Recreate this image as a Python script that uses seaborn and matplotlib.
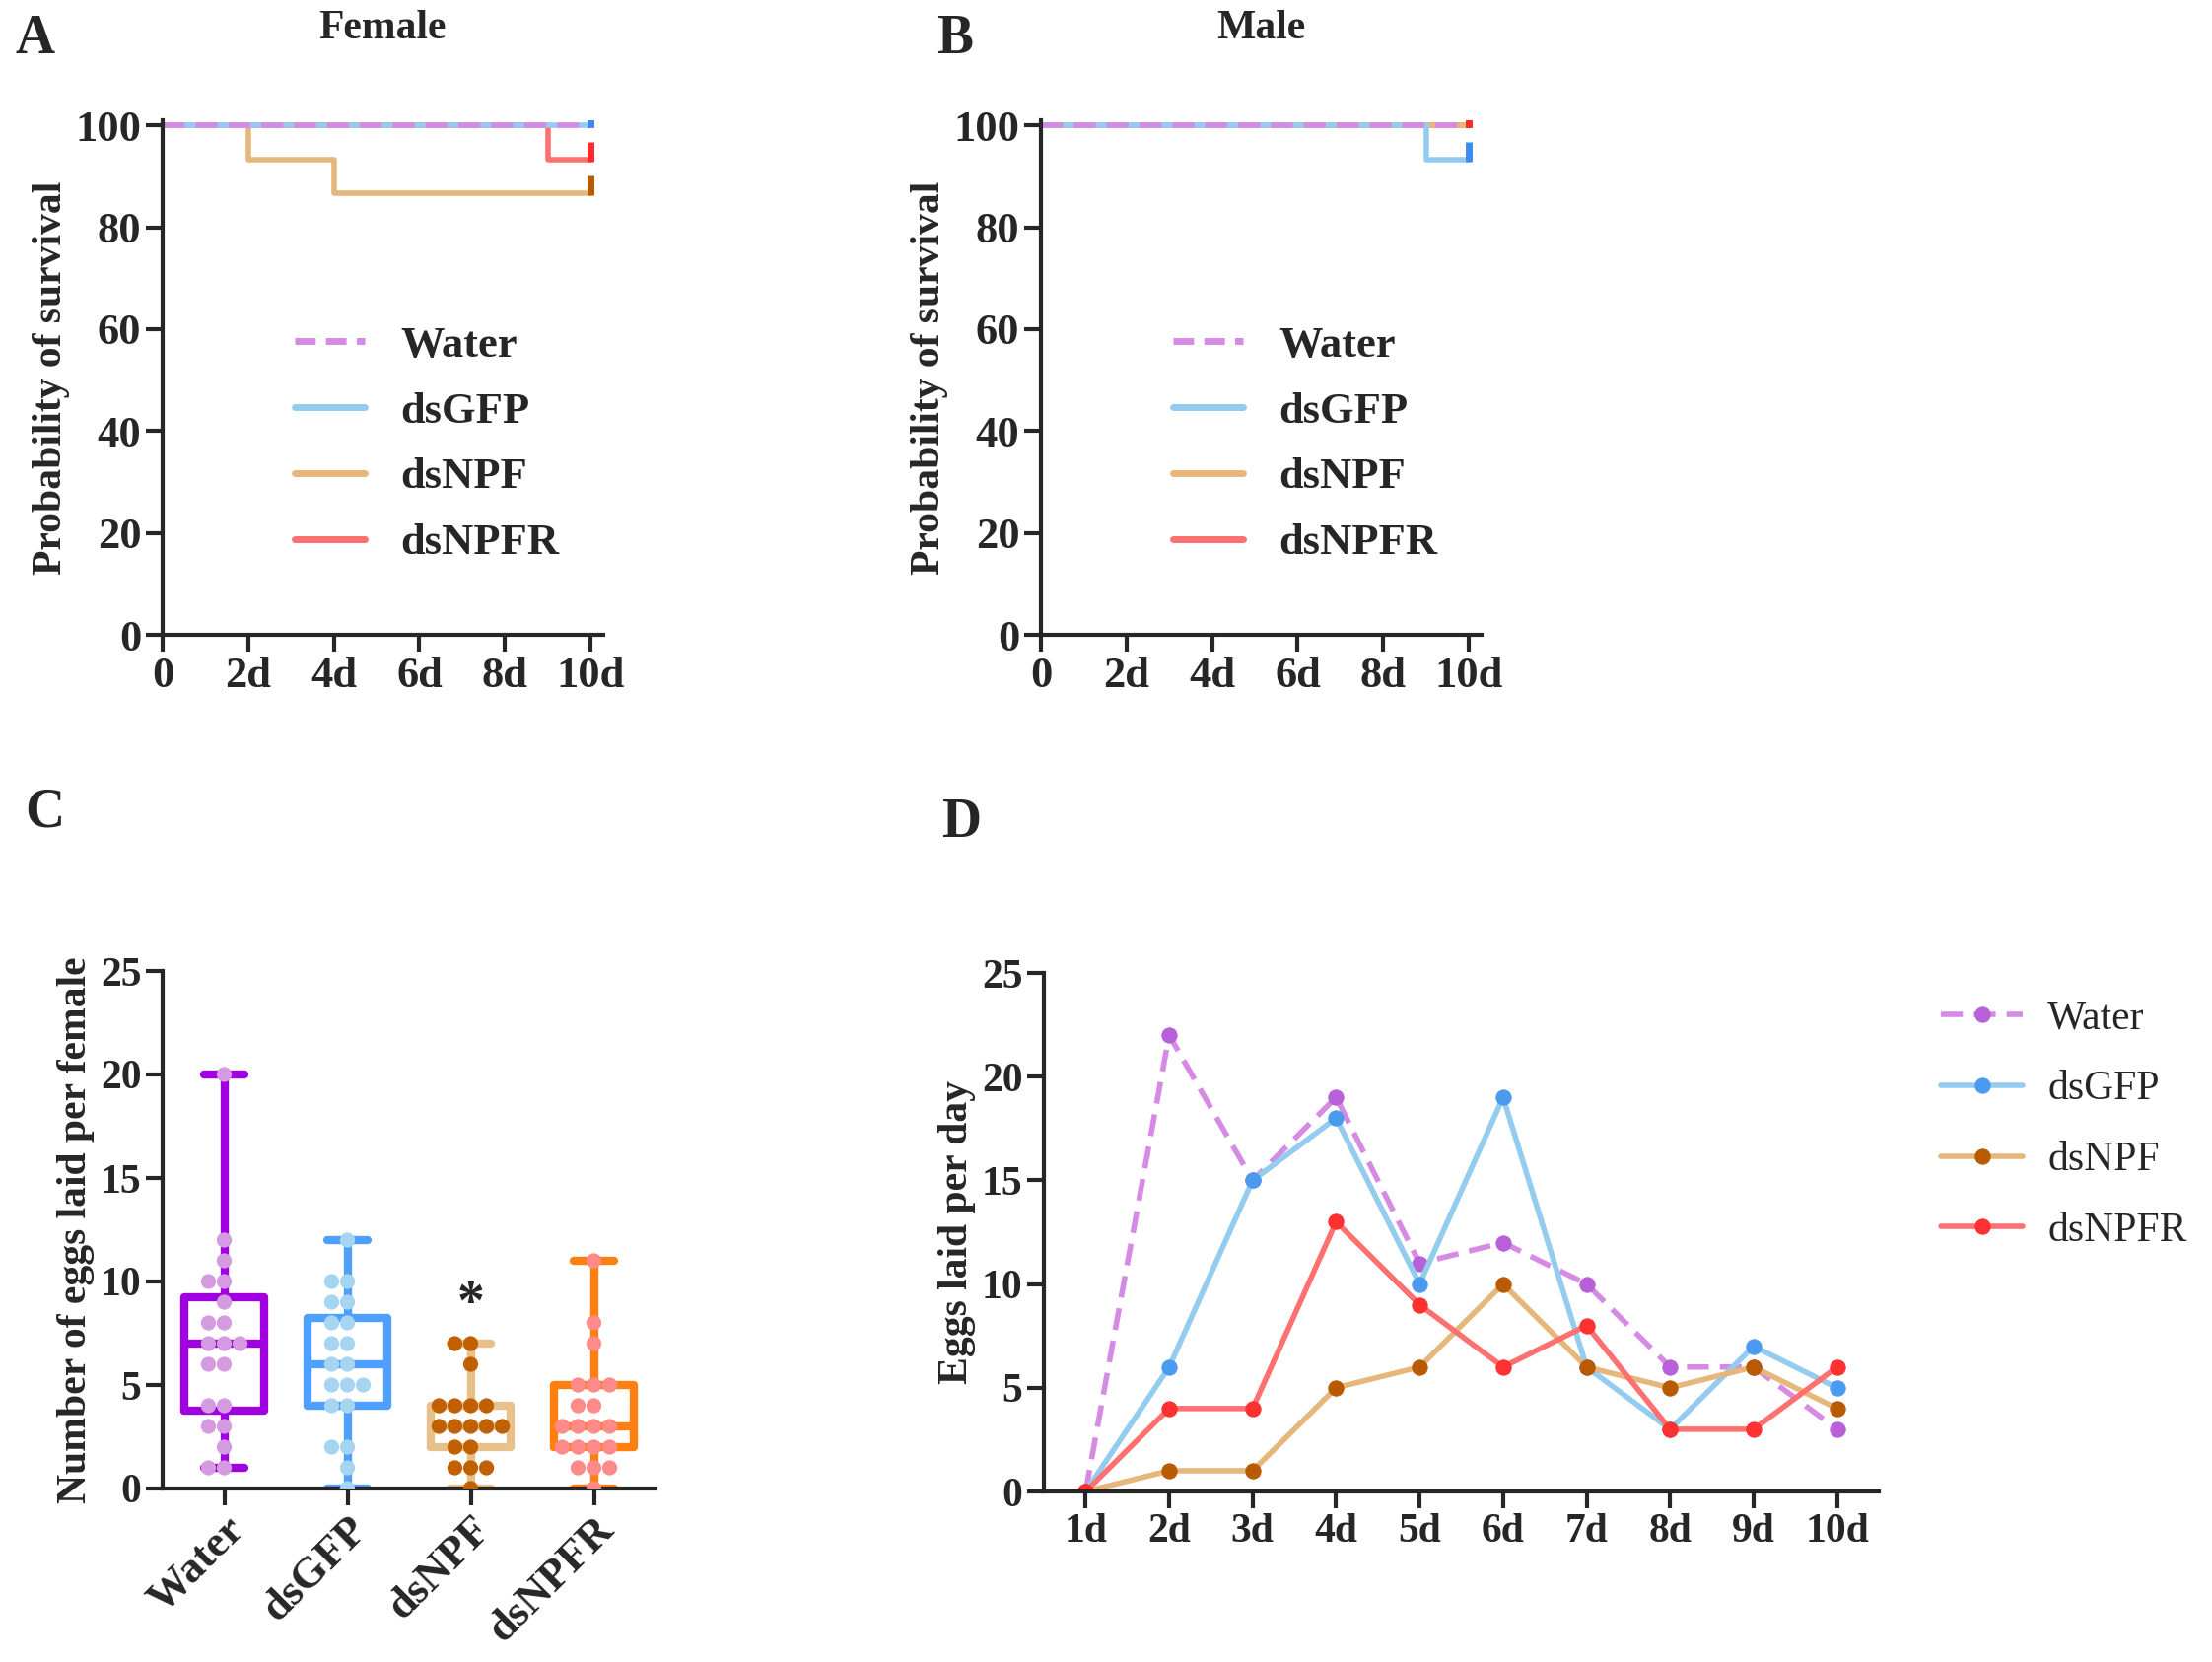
import numpy as np
import pandas as pd
import matplotlib
matplotlib.use('Agg')
import matplotlib.pyplot as plt
import seaborn as sns
from matplotlib.lines import Line2D

sns.set_style('ticks')
plt.rcParams['font.family'] = ['Liberation Serif', 'DejaVu Serif']
plt.rcParams['font.weight'] = 'bold'
plt.rcParams['axes.labelweight'] = 'bold'

groups = ['Water', 'dsGFP', 'dsNPF', 'dsNPFR']
line_cols = ['#D58BE3', '#93CCEE', '#E6B77A', '#FF7070']
dark_cols = ['#A000E0', '#3C8CF0', '#B85A00', '#FF2A2A']

# survival (days, percent) step points
surv_days = [0, 2, 4, 9, 10]
female_surv = {
    'Water':  [100, 100, 100, 100, 100],
    'dsGFP':  [100, 100, 100, 100, 100],
    'dsNPF':  [100, 93.3, 86.7, 86.7, 86.7],
    'dsNPFR': [100, 100, 100, 93.3, 93.3],
}
male_surv = {
    'Water':  [100, 100, 100, 100, 100],
    'dsGFP':  [100, 100, 100, 93.3, 93.3],
    'dsNPF':  [100, 100, 100, 100, 100],
    'dsNPFR': [100, 100, 100, 100, 100],
}
surv_ticks = ['0', '2d', '4d', '6d', '8d', '10d']

# eggs per female
eggs = {
    'Water':  [20, 12, 11, 10, 10, 9, 8, 8, 7, 7, 7, 6, 6, 4, 4, 3, 3, 2, 1, 1],
    'dsGFP':  [12, 10, 10, 9, 9, 8, 8, 7, 7, 6, 6, 5, 5, 5, 4, 4, 2, 2, 1, 0],
    'dsNPF':  [7, 7, 6, 4, 4, 4, 4, 3, 3, 3, 3, 3, 2, 2, 1, 1, 1, 0],
    'dsNPFR': [11, 8, 7, 5, 5, 5, 4, 4, 3, 3, 3, 3, 2, 2, 2, 2, 1, 1, 1, 0],
}
box_cols = ['#A000E0', '#4DA0FF', '#E8C08A', '#FF8010']
pt_cols = ['#D49BE0', '#A5D5F0', '#C06000', '#FF8A8A']

# eggs per day
days = ['1d', '2d', '3d', '4d', '5d', '6d', '7d', '8d', '9d', '10d']
per_day = {
    'Water':  [0, 22, 15, 19, 11, 12, 10, 6, 6, 3],
    'dsGFP':  [0, 6, 15, 18, 10, 19, 6, 3, 7, 5],
    'dsNPF':  [0, 1, 1, 5, 6, 10, 6, 5, 6, 4],
    'dsNPFR': [0, 4, 4, 13, 9, 6, 8, 3, 3, 6],
}
dot_cols = ['#B860D8', '#4A9BF0', '#B85A00', '#FF3030']

W, H = 2244, 1686
fig = plt.figure(figsize=(W / 100, H / 100), dpi=100)


def box(x0, y0, x1, y1):
    return [x0 / W, 1 - y1 / H, (x1 - x0) / W, (y1 - y0) / H]


def style(ax, fs=30):
    sns.despine(ax=ax)
    for s in ['left', 'bottom']:
        ax.spines[s].set_linewidth(3)
    ax.tick_params(width=3, length=12, labelsize=fs)
    for t in ax.get_xticklabels() + ax.get_yticklabels():
        t.set_fontweight('bold')


def survival(ax, data, title):
    # draw in reverse so Water (dashed) sits on top
    for g, lc, dc in list(zip(groups, line_cols, dark_cols))[::-1]:
        df = pd.DataFrame({'day': surv_days, 'p': data[g]})
        sns.lineplot(data=df, x='day', y='p', ax=ax, color=lc, lw=4,
                     drawstyle='steps-post',
                     linestyle=(0, (4, 2)) if g == 'Water' else '-')
    for g, dc in zip(groups, dark_cols):
        ax.plot([10], [data[g][-1] + 1.5], marker='|', color=dc, ms=14, mew=5)
    ax.set_xlim(0, 10.3)
    ax.set_ylim(0, 101)
    ax.set_xticks([0, 2, 4, 6, 8, 10], surv_ticks)
    ax.set_yticks(range(0, 101, 20))
    ax.set_xlabel('')
    ax.set_ylabel('Probability of survival', fontsize=30)
    ax.set_title(title, fontsize=30, fontweight='bold', pad=60)
    style(ax, 32)
    handles = [Line2D([], [], color=lc, lw=5,
                      linestyle=(0, (3, 1.5)) if g == 'Water' else '-')
               for g, lc in zip(groups, line_cols)]
    ax.legend(handles, groups, loc='center', bbox_to_anchor=(0.6, 0.37),
              frameon=False, handlelength=1.6, labelspacing=0.6,
              prop={'weight': 'bold', 'size': 32})


axA = fig.add_axes(box(165, 122, 612, 644))
survival(axA, female_surv, 'Female')
axB = fig.add_axes(box(1056, 122, 1503, 644))
survival(axB, male_surv, 'Male')

# panel C
axC = fig.add_axes(box(165, 985, 665, 1510))
long = pd.DataFrame([(g, v) for g in groups for v in eggs[g]], columns=['grp', 'n'])
for i, g in enumerate(groups):
    sub = long[long.grp == g]
    sns.boxplot(data=sub, x='grp', y='n', order=groups, ax=axC, fill=False,
                whis=(0, 100), width=0.65, color=box_cols[i], linewidth=6)
sns.swarmplot(data=long, x='grp', y='n', order=groups, hue='grp',
              palette=pt_cols, ax=axC, size=11, legend=False, zorder=5)
axC.text(2, 7.6, '*', ha='center', va='bottom', fontsize=40, fontweight='bold')
axC.set_ylim(0, 25)
axC.set_yticks(range(0, 26, 5))
axC.set_xlabel('')
axC.set_ylabel('Number of eggs laid per female', fontsize=30)
style(axC, 30)
for t in axC.get_xticklabels():
    t.set_rotation(45)
    t.set_ha('right')
    t.set_rotation_mode('anchor')
    t.set_fontsize(32)

# panel D
axD = fig.add_axes(box(1059, 987, 1906, 1513))
for g, lc, dc in zip(groups, line_cols, dot_cols):
    df = pd.DataFrame({'day': days, 'n': per_day[g]})
    sns.lineplot(data=df, x='day', y='n', ax=axD, color=lc, lw=4, sort=False,
                 linestyle=(0, (4, 2)) if g == 'Water' else '-', label=g,
                 marker='o', markersize=11, markerfacecolor=dc,
                 markeredgecolor=dc)
axD.set_ylim(0, 25)
axD.set_yticks(range(0, 26, 5))
axD.set_xlim(-0.5, 9.5)
axD.set_xlabel('')
axD.set_ylabel('Eggs laid per day', fontsize=30)
style(axD, 30)
axD.legend(loc='upper left', bbox_to_anchor=(1.03, 1.02), frameon=False,
           prop={'weight': 'normal', 'size': 30}, handlelength=2,
           handletextpad=0.6, labelspacing=0.8)

for lab, x, y in [('A', 15, 40), ('B', 950, 40), ('C', 25, 825), ('D', 955, 835)]:
    fig.text(x / W, 1 - y / H, lab, fontsize=40, fontweight='bold', va='center')

fig.savefig('out.png', dpi=100)
